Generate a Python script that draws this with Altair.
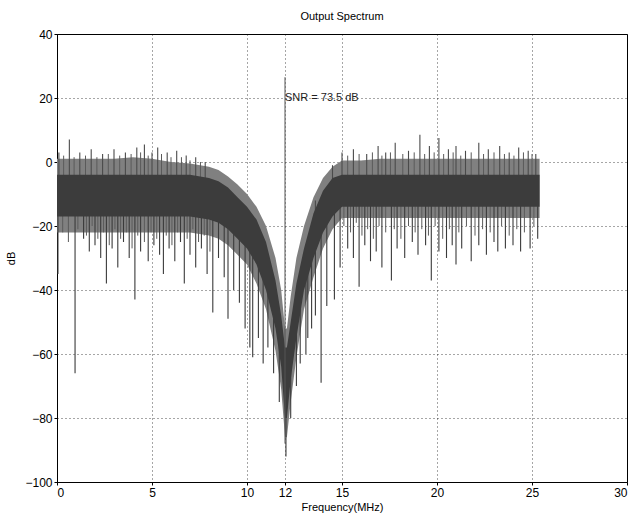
import altair as alt
import pandas as pd

# ---- data ----
env_freq = [0, 0.5, 1, 2, 3, 4, 5, 6, 7, 8, 8.5, 9, 9.5, 10, 10.5, 11, 11.5, 11.8, 12.0, 12.1,
            12.3, 12.6, 13, 13.5, 14, 14.5, 15, 16, 17, 18, 19, 20, 21, 22, 23, 24, 25, 25.4]
outer_top = [1, 1, 1, 1, 1, 1.5, 1, 0, -0.5, -1.5, -2.5, -4.5, -7, -10, -14, -20, -30, -40, -52, -52,
             -42, -30, -20, -11, -5, -1.5, 0.5, 0.5, 1, 1, 1, 1, 1, 1, 1, 1, 1, 1]
core_top = [-4, -4, -4, -4, -4, -4, -4, -4, -4, -5, -6, -8, -11, -14, -18, -25, -37, -48, -58, -58,
            -50, -38, -27, -16, -9, -5, -4, -4, -4, -4, -4, -4, -4, -4, -4, -4, -4, -4]
core_bot = [-17, -17, -17, -17, -17, -17, -17, -17, -17, -18, -19, -21, -24, -27, -32, -40, -52, -64, -80, -80,
            -68, -55, -40, -30, -22, -17, -14, -14, -14, -14, -14, -14, -14, -14, -14, -14, -14, -14]
outer_bot = [-22, -22, -22, -22, -22, -22, -22, -22, -22, -23, -24, -26, -29, -32, -38, -46, -59, -71, -86, -86,
             -75, -61, -46, -36, -27, -21, -17.5, -17.5, -17.5, -17.5, -17.5, -17.5, -17.5, -17.5, -17.5,
             -17.5, -17.5, -17.5]

down_freq = [0.05, 0.95, 1.4, 1.7, 2.0, 2.3, 2.6, 2.9, 3.2, 3.5, 3.8, 4.1, 4.4, 4.8, 5.1, 5.4, 5.6, 5.9,
             6.2, 6.5, 6.7, 7.0, 7.3, 7.6, 7.9, 8.2, 8.5, 8.8, 9.0, 9.3, 9.6, 9.9, 10.15, 10.3, 10.6,
             10.85, 11.1, 11.4, 11.7, 12.05, 12.3, 12.6, 12.8, 13.1, 13.2, 13.4, 13.6, 13.9, 14.2, 14.6,
             14.9, 15.3, 15.6, 15.9, 16.2, 16.5, 16.8, 17.1, 17.6, 17.9, 18.3, 18.7, 19.0, 19.4, 19.7,
             20.1, 20.5, 20.8, 21.0, 21.3, 21.8, 22.2, 22.6, 23.0, 23.2, 23.6, 24.0, 24.4, 24.9, 25.3]
down_from = [-10, -10, -10, -10, -10, -10, -10, -10, -10, -10, -10, -10, -10, -10, -10, -10, -10, -10,
             -10, -10, -10, -10, -10, -10, -10, -12, -13, -14, -15, -17, -18, -20, -22, -23, -26,
             -30, -33, -40, -55, -75, -62, -48, -40, -35, -32, -25, -22, -17, -14, -11,
             -9, -9, -9, -9, -9, -9, -9, -9, -9, -9, -9, -9, -9, -9, -9,
             -9, -9, -9, -9, -9, -9, -9, -9, -9, -9, -9, -9, -9, -9, -9]
down_to = [-35, -66, -24, -28, -26, -30, -38, -27, -33, -25, -30, -43, -28, -31, -26, -29, -35, -27,
           -31, -25, -38, -29, -33, -27, -35, -47, -30, -36, -49, -40, -44, -52, -58, -61, -55,
           -63, -58, -66, -75, -92, -80, -70, -63, -60, -55, -52, -48, -69, -45, -43,
           -33, -27, -30, -39, -26, -31, -28, -33, -37, -27, -30, -25, -29, -26, -37,
           -28, -30, -26, -32, -27, -31, -26, -29, -25, -28, -27, -26, -28, -27, -24]

# shorter, fainter downward spikes
minor_down_freq = [0.3, 0.6, 1.1, 1.55, 1.85, 2.15, 2.45, 2.75, 3.05, 3.35, 3.65, 3.95, 4.25, 4.6, 4.95,
                   5.25, 5.75, 6.05, 6.35, 6.85, 7.15, 7.45, 7.75, 8.05,
                   15.1, 15.45, 15.75, 16.05, 16.35, 16.65, 16.95, 17.3, 17.75, 18.1, 18.5, 18.85, 19.2,
                   19.55, 19.9, 20.3, 20.65, 21.15, 21.55, 22.0, 22.4, 22.8, 23.4, 23.8, 24.2, 24.6, 25.1]
minor_down_to = [-22, -25, -21, -23, -20, -24, -22, -26, -21, -24, -22, -27, -23, -25, -22,
                 -24, -23, -26, -22, -24, -21, -25, -23, -28,
                 -20, -22, -19, -23, -21, -24, -20, -22, -21, -24, -20, -22, -21,
                 -23, -20, -24, -21, -22, -20, -23, -21, -22, -20, -23, -21, -22, -20]

up_freq = [0.1, 0.65, 1.2, 1.8, 2.4, 3.0, 3.6, 4.2, 4.6, 5.0, 5.3, 5.8, 6.3, 6.8, 7.3, 7.8, 13.6,
           14.5, 15.0, 15.6, 16.3, 16.9, 17.3, 17.8, 18.5, 19.1, 19.6, 20.1, 20.6, 21.0, 21.5, 22.2,
           22.7, 23.3, 23.8, 24.3, 24.8, 25.2]
up_from = [-6] * 16 + [-20] + [-8] * 21
up_to = [3, 7, 3, 4, 2.5, 4, 3, 4.5, 5.5, 3, 4.5, 3, 3.5, 2, 1.5, 0, -12,
         -1, 3, 4, 2.5, 5, 3, 6, 3.5, 8.5, 5, 7.5, 4, 5, 3.5, 6, 4, 5, 3, 4.5, 3.5, 2.5]

minor_up_freq = [0.35, 0.9, 1.5, 2.1, 2.7, 3.3, 3.9, 4.4, 4.8, 5.5, 6.0, 6.55, 7.0, 7.55,
                 15.3, 15.9, 16.6, 17.1, 17.55, 18.2, 18.8, 19.35, 19.85, 20.35, 20.85, 21.25, 21.8,
                 22.45, 23.0, 23.55, 24.05, 24.55, 25.0]
minor_up_to = [2, 1.5, 2, 1.5, 2.5, 2, 2.5, 3, 2, 2.5, 1.5, 1.5, 0.5, 0,
               2, 2.5, 3, 2, 3, 2.5, 3, 2.5, 3, 2.5, 3, 2, 3, 2.5, 3, 2.5, 2, 3, 2.5]

x_ticks = [0, 5, 10, 12, 15, 20, 25, 30]
y_ticks = [-100, -80, -60, -40, -20, 0, 20, 40]

signal_freq = 12
signal_top = 26.5
signal_bottom = -88
snr_text = "SNR = 73.5 dB"
snr_level = 20

FONT = "Liberation Sans"

env = pd.DataFrame({"f": env_freq, "ot": outer_top, "ct": core_top, "cb": core_bot, "ob": outer_bot})
down = pd.DataFrame({"f": down_freq, "a": down_from, "b": down_to})
up = pd.DataFrame({"f": up_freq, "a": up_from, "b": up_to})
mdown = pd.DataFrame({"f": minor_down_freq, "b": minor_down_to})
mup = pd.DataFrame({"f": minor_up_freq, "b": minor_up_to})

xscale = alt.Scale(domain=[0, 30], nice=False, zero=False)
yscale = alt.Scale(domain=[-100, 40], nice=False, zero=False)

xaxis = alt.Axis(values=x_ticks, title="Frequency(MHz)", grid=True, gridDash=[1, 3], gridColor="#000",
                 gridOpacity=0.7, labelFontSize=12, labelFont=FONT, labelColor="#000",
                 titleFont=FONT, titleFontSize=11, titleFontWeight="normal", titleColor="#000",
                 tickSize=3, tickColor="#000", domainColor="#000", labelPadding=2, titlePadding=3,
                 labelFlush=True)
yaxis = alt.Axis(values=y_ticks, title="dB", grid=True, gridDash=[1, 3], gridColor="#000",
                 gridOpacity=0.7, labelFontSize=12, labelFont=FONT, labelColor="#000",
                 titleFont=FONT, titleFontSize=11, titleFontWeight="normal", titleColor="#000",
                 tickSize=3, tickColor="#000", domainColor="#000", labelPadding=2, titlePadding=8,
                 labelFlush=False)

base_grid = alt.Chart(env).mark_point(opacity=0).encode(
    x=alt.X("f:Q", scale=xscale, axis=xaxis),
    y=alt.Y("ot:Q", scale=yscale, axis=yaxis),
)

outer = alt.Chart(env).mark_area(color="#808080", interpolate="linear").encode(
    x=alt.X("f:Q", scale=xscale), y=alt.Y("ot:Q", scale=yscale), y2="ob:Q"
)
mdown_rules = alt.Chart(mdown).mark_rule(color="#5a5a5a", strokeWidth=1).encode(
    x=alt.X("f:Q", scale=xscale), y=alt.Y("b:Q", scale=yscale), y2=alt.datum(-12)
)
mup_rules = alt.Chart(mup).mark_rule(color="#5a5a5a", strokeWidth=1).encode(
    x=alt.X("f:Q", scale=xscale), y=alt.Y("b:Q", scale=yscale), y2=alt.datum(-5)
)
down_rules = alt.Chart(down).mark_rule(color="#3a3a3a", strokeWidth=1.1).encode(
    x=alt.X("f:Q", scale=xscale), y=alt.Y("a:Q", scale=yscale), y2="b:Q"
)
up_rules = alt.Chart(up).mark_rule(color="#4a4a4a", strokeWidth=1.1).encode(
    x=alt.X("f:Q", scale=xscale), y=alt.Y("a:Q", scale=yscale), y2="b:Q"
)
core = alt.Chart(env).mark_area(color="#3c3c3c", interpolate="linear").encode(
    x=alt.X("f:Q", scale=xscale), y=alt.Y("ct:Q", scale=yscale), y2="cb:Q"
)

sig = pd.DataFrame({"f": [signal_freq], "a": [signal_top], "b": [signal_bottom],
                    "t": [snr_text], "lv": [snr_level]})
sig_rule = alt.Chart(sig).mark_rule(color="#555", strokeWidth=1).encode(
    x=alt.X("f:Q", scale=xscale), y=alt.Y("a:Q", scale=yscale), y2="b:Q"
)
snr = alt.Chart(sig).mark_text(align="left", baseline="middle", dx=0, fontSize=11, font=FONT,
                               color="#222").encode(
    x=alt.X("f:Q", scale=xscale), y=alt.Y("lv:Q", scale=yscale), text="t:N"
)

chart = alt.layer(base_grid, outer, mdown_rules, mup_rules, down_rules, up_rules, core,
                  sig_rule, snr).properties(
    width=570, height=448,
    title=alt.TitleParams("Output Spectrum", font=FONT, fontSize=11, fontWeight="normal",
                          color="#000", offset=6),
    autosize=alt.AutoSizeParams(type="none"),
    padding={"left": 57, "top": 34, "right": 5, "bottom": 35},
    background="white",
).configure_view(stroke="#000", strokeWidth=1)

chart.save("out.html", embed_options={"renderer": "svg", "actions": False})
